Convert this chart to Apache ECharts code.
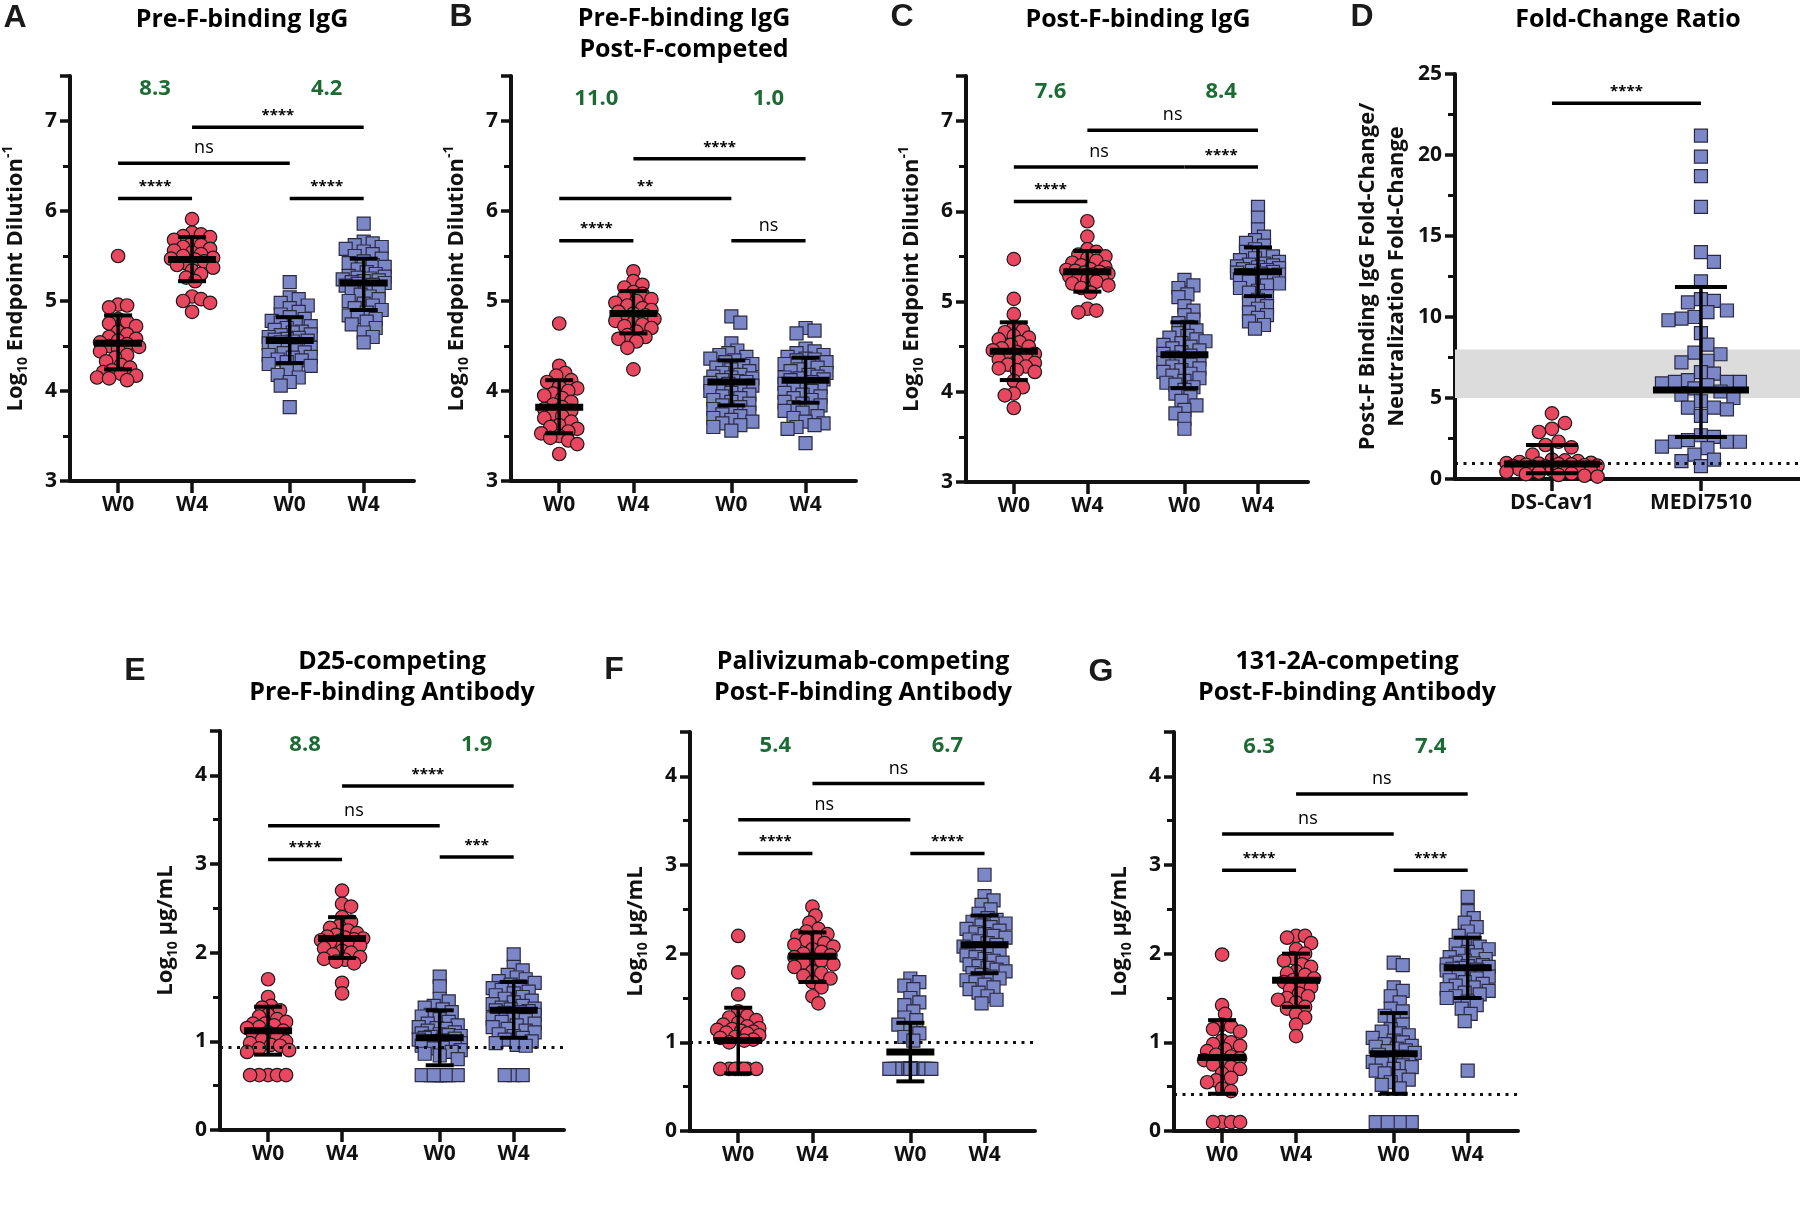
<!DOCTYPE html>
<html><head><meta charset="utf-8">
<script src="https://cdn.jsdelivr.net/npm/echarts@6/dist/echarts.min.js"></script>
<style>html,body{margin:0;padding:0;background:#fff}#c{width:1800px;height:1231px}</style>
</head><body><div id="c"></div>
<script>
// ================= DATA =================
const groupLabels = ['W0', 'W4', 'W0', 'W4'];
const groupLabelsD = ['DS-Cav1', 'MEDI7510'];
const titleTexts = ['Pre-F-binding IgG', 'Pre-F-binding IgG', 'Post-F-competed', 'Post-F-binding IgG', 'Fold-Change Ratio',
  'D25-competing', 'Pre-F-binding Antibody', 'Palivizumab-competing', 'Post-F-binding Antibody', '131-2A-competing', 'Post-F-binding Antibody'];
const panelLetters = ['A', 'B', 'C', 'D', 'E', 'F', 'G'];

// Panel A: Pre-F-binding IgG (log10 endpoint dilution)
const A_ds_w0 = [5.50, 4.96, 4.95, 4.93, 4.80, 4.77, 4.75, 4.72, 4.66, 4.63, 4.60, 4.58, 4.56, 4.54, 4.52, 4.50, 4.49, 4.47, 4.44, 4.40, 4.37, 4.33, 4.29, 4.26, 4.23, 4.21, 4.19, 4.17, 4.15, 4.14, 4.12];
const A_ds_w4 = [5.91, 5.76, 5.74, 5.72, 5.71, 5.68, 5.65, 5.62, 5.60, 5.58, 5.56, 5.54, 5.52, 5.50, 5.48, 5.47, 5.46, 5.44, 5.42, 5.40, 5.37, 5.34, 5.30, 5.26, 5.22, 5.05, 5.02, 5.00, 4.98, 4.88];
const A_me_w0 = [5.21, 5.04, 5.02, 4.98, 4.95, 4.92, 4.88, 4.85, 4.82, 4.80, 4.78, 4.76, 4.74, 4.72, 4.70, 4.68, 4.66, 4.65, 4.63, 4.62, 4.60, 4.59, 4.58, 4.57, 4.56, 4.55, 4.54, 4.53, 4.52, 4.50, 4.48, 4.46, 4.45, 4.43, 4.42, 4.40, 4.38, 4.37, 4.35, 4.34, 4.32, 4.30, 4.28, 4.25, 4.22, 4.18, 4.15, 4.10, 4.06, 3.82];
const A_me_w4 = [5.86, 5.66, 5.64, 5.62, 5.60, 5.58, 5.55, 5.52, 5.50, 5.47, 5.44, 5.42, 5.40, 5.38, 5.35, 5.32, 5.30, 5.28, 5.27, 5.26, 5.25, 5.24, 5.23, 5.22, 5.21, 5.20, 5.19, 5.18, 5.17, 5.15, 5.12, 5.10, 5.07, 5.05, 5.02, 5.00, 4.97, 4.95, 4.92, 4.90, 4.87, 4.84, 4.82, 4.80, 4.77, 4.74, 4.70, 4.65, 4.60, 4.54];
const A_mean = [4.53, 5.46, 4.56, 5.20];
const A_hi = [4.84, 5.71, 4.82, 5.47];
const A_lo = [4.24, 5.22, 4.31, 4.90];
const A_brackets = [[0, 1, 6.14, '****'], [0, 2, 6.53, 'ns'], [1, 3, 6.93, '****'], [2, 3, 6.14, '****']];
const A_fold = ['8.3', '4.2'];
const A_foldY = 7.36;

// Panel B: Pre-F-binding IgG, Post-F-competed
const B_ds_w0 = [4.75, 4.28, 4.20, 4.17, 4.12, 4.10, 4.05, 4.03, 4.00, 3.97, 3.95, 3.92, 3.88, 3.85, 3.82, 3.80, 3.78, 3.75, 3.72, 3.70, 3.66, 3.62, 3.60, 3.58, 3.55, 3.53, 3.50, 3.48, 3.45, 3.41, 3.30];
const B_ds_w4 = [5.33, 5.22, 5.18, 5.15, 5.10, 5.08, 5.05, 5.02, 5.00, 4.98, 4.95, 4.92, 4.90, 4.88, 4.86, 4.84, 4.82, 4.80, 4.78, 4.76, 4.74, 4.72, 4.70, 4.66, 4.62, 4.60, 4.58, 4.55, 4.48, 4.24];
const B_me_w0 = [4.83, 4.76, 4.53, 4.45, 4.42, 4.40, 4.38, 4.36, 4.34, 4.32, 4.30, 4.28, 4.26, 4.24, 4.22, 4.20, 4.18, 4.16, 4.15, 4.14, 4.12, 4.11, 4.10, 4.09, 4.08, 4.06, 4.04, 4.02, 4.00, 3.98, 3.96, 3.94, 3.92, 3.90, 3.88, 3.86, 3.84, 3.82, 3.80, 3.78, 3.76, 3.74, 3.72, 3.70, 3.68, 3.66, 3.64, 3.62, 3.60, 3.56];
const B_me_w4 = [4.70, 4.67, 4.64, 4.47, 4.44, 4.42, 4.40, 4.38, 4.36, 4.35, 4.34, 4.32, 4.30, 4.28, 4.26, 4.24, 4.22, 4.20, 4.18, 4.16, 4.15, 4.14, 4.13, 4.12, 4.10, 4.08, 4.06, 4.04, 4.02, 4.00, 3.98, 3.96, 3.94, 3.92, 3.90, 3.88, 3.86, 3.84, 3.82, 3.80, 3.78, 3.76, 3.72, 3.70, 3.66, 3.64, 3.62, 3.60, 3.58, 3.42];
const B_mean = [3.82, 4.86, 4.10, 4.12];
const B_hi = [4.12, 5.11, 4.34, 4.37];
const B_lo = [3.53, 4.64, 3.84, 3.87];
const B_brackets = [[0, 1, 5.67, '****'], [0, 2, 6.14, '**'], [1, 3, 6.58, '****'], [2, 3, 5.67, 'ns']];
const B_fold = ['11.0', '1.0'];
const B_foldY = 7.25;

// Panel C: Post-F-binding IgG
const C_ds_w0 = [5.47, 5.03, 4.86, 4.72, 4.68, 4.66, 4.62, 4.60, 4.58, 4.55, 4.52, 4.50, 4.48, 4.46, 4.44, 4.42, 4.40, 4.38, 4.36, 4.34, 4.32, 4.30, 4.28, 4.26, 4.24, 4.22, 4.12, 4.05, 3.98, 3.96, 3.82];
const C_ds_w4 = [5.89, 5.72, 5.58, 5.55, 5.52, 5.50, 5.48, 5.45, 5.43, 5.40, 5.38, 5.36, 5.35, 5.34, 5.33, 5.32, 5.31, 5.30, 5.28, 5.26, 5.25, 5.24, 5.22, 5.20, 5.18, 5.15, 5.10, 4.92, 4.90, 4.88];
const C_me_w0 = [5.24, 5.18, 5.15, 5.08, 5.05, 4.95, 4.90, 4.85, 4.80, 4.76, 4.72, 4.68, 4.65, 4.62, 4.60, 4.58, 4.56, 4.54, 4.52, 4.50, 4.48, 4.46, 4.44, 4.42, 4.40, 4.38, 4.36, 4.34, 4.32, 4.30, 4.28, 4.26, 4.24, 4.22, 4.20, 4.18, 4.15, 4.12, 4.10, 4.08, 4.05, 4.02, 3.98, 3.94, 3.90, 3.85, 3.80, 3.76, 3.70, 3.59];
const C_me_w4 = [6.05, 5.93, 5.80, 5.72, 5.68, 5.65, 5.62, 5.58, 5.55, 5.52, 5.50, 5.48, 5.46, 5.44, 5.42, 5.41, 5.40, 5.39, 5.38, 5.37, 5.36, 5.35, 5.34, 5.33, 5.32, 5.31, 5.30, 5.29, 5.28, 5.27, 5.26, 5.25, 5.24, 5.22, 5.20, 5.18, 5.15, 5.12, 5.10, 5.06, 5.02, 4.98, 4.95, 4.92, 4.88, 4.85, 4.82, 4.78, 4.74, 4.70];
const C_mean = [4.45, 5.33, 4.41, 5.33];
const C_hi = [4.77, 5.56, 4.77, 5.60];
const C_lo = [4.13, 5.11, 4.04, 5.06];
const C_brackets = [[0, 1, 6.11, '****'], [0, 2, 6.49, 'ns'], [1, 3, 6.90, 'ns'], [2, 3, 6.49, '****']];
const C_fold = ['7.6', '8.4'];
const C_foldY = 7.33;

// Panel D: Fold-change ratio
const D_ds = [4.05, 3.45, 3.10, 2.90, 2.30, 2.10, 1.95, 1.50, 1.20, 1.15, 1.10, 1.05, 1.00, 0.98, 0.95, 0.92, 0.90, 0.88, 0.85, 0.82, 0.80, 0.78, 0.75, 0.70, 0.65, 0.60, 0.55, 0.50, 0.45, 0.40, 0.35, 0.30, 0.25, 0.20, 0.15];
const D_me = [21.2, 19.9, 18.7, 16.8, 14.0, 13.4, 12.2, 11.1, 11.0, 10.9, 10.4, 10.3, 10.0, 9.9, 9.8, 9.0, 8.3, 7.8, 7.7, 7.3, 7.2, 6.6, 6.5, 6.1, 6.0, 6.0, 6.0, 5.9, 5.8, 5.6, 5.4, 5.2, 5.0, 4.8, 4.4, 4.4, 4.3, 3.9, 2.7, 2.6, 2.4, 2.3, 2.3, 2.3, 2.0, 1.9, 1.5, 1.2, 1.1, 0.8];
const D_mean = [0.93, 5.49];
const D_hi = [2.10, 11.85];
const D_lo = [0.35, 2.60];
const D_brackets = [[0, 1, 23.19, '****']];
const D_bandLow = 5, D_bandHigh = 8, D_ref = 1;

// Panel E: D25-competing Pre-F-binding antibody (log10 ug/mL)
const E_ds_w0 = [1.70, 1.50, 1.40, 1.38, 1.35, 1.30, 1.28, 1.25, 1.22, 1.20, 1.20, 1.18, 1.16, 1.15, 1.12, 1.10, 1.08, 1.05, 1.02, 1.00, 0.98, 0.96, 0.95, 0.92, 0.90, 0.88, 0.62, 0.62, 0.62, 0.62, 0.62];
const E_ds_w4 = [2.70, 2.55, 2.52, 2.40, 2.35, 2.30, 2.28, 2.25, 2.22, 2.20, 2.18, 2.17, 2.16, 2.15, 2.14, 2.13, 2.12, 2.10, 2.08, 2.05, 2.02, 2.00, 1.98, 1.95, 1.93, 1.92, 1.90, 1.88, 1.66, 1.54];
const E_me_w0 = [1.73, 1.62, 1.48, 1.45, 1.40, 1.38, 1.36, 1.33, 1.30, 1.28, 1.25, 1.22, 1.20, 1.18, 1.16, 1.15, 1.14, 1.12, 1.10, 1.09, 1.08, 1.07, 1.06, 1.05, 1.04, 1.03, 1.02, 1.01, 1.00, 0.99, 0.98, 0.97, 0.96, 0.95, 0.93, 0.92, 0.90, 0.88, 0.86, 0.84, 0.80, 0.62, 0.62, 0.62, 0.62, 0.62, 0.62, 0.62, 0.62, 0.62];
const E_me_w4 = [1.98, 1.84, 1.80, 1.75, 1.72, 1.70, 1.68, 1.66, 1.64, 1.62, 1.60, 1.58, 1.56, 1.54, 1.52, 1.50, 1.48, 1.46, 1.44, 1.42, 1.40, 1.38, 1.37, 1.36, 1.35, 1.34, 1.33, 1.32, 1.30, 1.28, 1.26, 1.24, 1.22, 1.20, 1.18, 1.16, 1.14, 1.12, 1.10, 1.08, 1.06, 1.04, 1.02, 1.00, 0.98, 0.96, 0.95, 0.62, 0.62, 0.62];
const E_mean = [1.12, 2.16, 1.04, 1.35];
const E_hi = [1.39, 2.40, 1.35, 1.67];
const E_lo = [0.85, 1.94, 0.73, 1.04];
const E_brackets = [[0, 1, 3.05, '****'], [0, 2, 3.43, 'ns'], [1, 3, 3.88, '****'], [2, 3, 3.08, '***']];
const E_fold = ['8.8', '1.9'];
const E_foldY = 4.34;
const E_ref = 0.93;

// Panel F: Palivizumab-competing Post-F-binding antibody
const F_ds_w0 = [2.20, 1.79, 1.54, 1.35, 1.30, 1.28, 1.25, 1.22, 1.20, 1.18, 1.16, 1.15, 1.14, 1.13, 1.12, 1.11, 1.10, 1.08, 1.06, 1.05, 1.03, 1.02, 1.00, 0.70, 0.70, 0.70, 0.70, 0.70, 0.70, 0.70, 0.70];
const F_ds_w4 = [2.53, 2.43, 2.35, 2.28, 2.25, 2.22, 2.20, 2.18, 2.15, 2.12, 2.10, 2.08, 2.05, 2.02, 2.00, 1.98, 1.96, 1.94, 1.92, 1.90, 1.88, 1.85, 1.80, 1.78, 1.75, 1.72, 1.68, 1.62, 1.52, 1.44];
const F_me_w0 = [1.72, 1.68, 1.64, 1.60, 1.50, 1.45, 1.42, 1.35, 1.28, 1.25, 1.20, 1.15, 1.10, 1.06, 1.02, 0.70, 0.70, 0.70, 0.70, 0.70, 0.70, 0.70, 0.70, 0.70, 0.70, 0.70, 0.70, 0.70, 0.70, 0.70, 0.70, 0.70, 0.70, 0.70, 0.70, 0.70, 0.70, 0.70, 0.70, 0.70, 0.70, 0.70, 0.70, 0.70, 0.70, 0.70, 0.70, 0.70, 0.70, 0.70];
const F_me_w4 = [2.89, 2.65, 2.60, 2.55, 2.50, 2.45, 2.40, 2.38, 2.36, 2.34, 2.32, 2.30, 2.28, 2.26, 2.24, 2.22, 2.20, 2.18, 2.16, 2.14, 2.12, 2.10, 2.08, 2.06, 2.04, 2.02, 2.00, 1.98, 1.96, 1.94, 1.92, 1.90, 1.88, 1.86, 1.84, 1.82, 1.80, 1.78, 1.76, 1.74, 1.72, 1.70, 1.68, 1.65, 1.62, 1.60, 1.56, 1.52, 1.48, 1.44];
const F_mean = [1.02, 1.97, 0.89, 2.10];
const F_hi = [1.39, 2.24, 1.22, 2.43];
const F_lo = [0.65, 1.68, 0.56, 1.78];
const F_brackets = [[0, 1, 3.13, '****'], [0, 2, 3.51, 'ns'], [1, 3, 3.92, 'ns'], [2, 3, 3.13, '****']];
const F_fold = ['5.4', '6.7'];
const F_foldY = 4.34;
const F_ref = 1.0;

// Panel G: 131-2A-competing Post-F-binding antibody
const G_ds_w0 = [1.99, 1.42, 1.32, 1.20, 1.18, 1.15, 1.12, 1.02, 1.00, 0.98, 0.96, 0.92, 0.90, 0.86, 0.84, 0.82, 0.80, 0.78, 0.75, 0.72, 0.70, 0.65, 0.60, 0.57, 0.55, 0.48, 0.45, 0.10, 0.10, 0.10, 0.10];
const G_ds_w4 = [2.20, 2.20, 2.18, 2.12, 2.05, 2.00, 1.95, 1.92, 1.88, 1.85, 1.80, 1.78, 1.76, 1.72, 1.70, 1.68, 1.65, 1.62, 1.60, 1.55, 1.52, 1.50, 1.48, 1.45, 1.40, 1.38, 1.32, 1.28, 1.20, 1.07];
const G_me_w0 = [1.90, 1.87, 1.62, 1.58, 1.52, 1.45, 1.38, 1.35, 1.30, 1.25, 1.20, 1.15, 1.12, 1.10, 1.08, 1.05, 1.02, 1.00, 0.98, 0.96, 0.95, 0.93, 0.91, 0.90, 0.88, 0.86, 0.84, 0.82, 0.80, 0.78, 0.76, 0.74, 0.72, 0.70, 0.68, 0.65, 0.62, 0.58, 0.55, 0.52, 0.48, 0.10, 0.10, 0.10, 0.10, 0.10, 0.10, 0.10, 0.10, 0.10];
const G_me_w4 = [2.64, 2.48, 2.40, 2.35, 2.30, 2.25, 2.20, 2.16, 2.12, 2.10, 2.08, 2.05, 2.02, 2.00, 1.98, 1.96, 1.94, 1.92, 1.90, 1.89, 1.88, 1.87, 1.86, 1.85, 1.84, 1.83, 1.82, 1.81, 1.80, 1.78, 1.76, 1.74, 1.72, 1.70, 1.68, 1.66, 1.64, 1.62, 1.60, 1.58, 1.56, 1.54, 1.52, 1.50, 1.46, 1.42, 1.38, 1.32, 1.24, 0.68];
const G_mean = [0.83, 1.70, 0.87, 1.84];
const G_hi = [1.25, 2.00, 1.33, 2.18];
const G_lo = [0.42, 1.40, 0.42, 1.50];
const G_brackets = [[0, 1, 2.94, '****'], [0, 2, 3.35, 'ns'], [1, 3, 3.80, 'ns'], [2, 3, 2.94, '****']];
const G_fold = ['6.3', '7.4'];
const G_foldY = 4.33;
const G_ref = 0.42;

// ================= LAYOUT / STYLE =================
const FONT = '"Open Sans", Lato, sans-serif';
const INK = '#111';
const RED = '#E8475F';
const BLUE = '#7C87C8';
const GREEN = '#1C6B34';
const xs4 = [1, 2, 3.32, 4.32];
const xs2 = [1, 2];

const nameLog = '{a|Log}{sub|10}{a| Endpoint Dilution}{sup|-1}';
const nameUg = '{a|Log}{sub|10}{a| \u00b5g/mL}';
const nameD = '{a|Post-F Binding IgG Fold-Change/}\n{a|Neutralization Fold-Change}';

const panels = [
  {grid: {left: 70, top: 76, width: 344, height: 405}, xr: [0.35, 5.0], yr: [3, 7.5, 1], xs: xs4, labels: groupLabels,
   groups: [A_ds_w0, A_ds_w4, A_me_w0, A_me_w4], mean: A_mean, hi: A_hi, lo: A_lo, br: A_brackets, fold: A_fold, foldY: A_foldY, name: nameLog},
  {grid: {left: 511, top: 76, width: 345, height: 405}, xr: [0.35, 5.0], yr: [3, 7.5, 1], xs: xs4, labels: groupLabels,
   groups: [B_ds_w0, B_ds_w4, B_me_w0, B_me_w4], mean: B_mean, hi: B_hi, lo: B_lo, br: B_brackets, fold: B_fold, foldY: B_foldY, name: nameLog},
  {grid: {left: 966, top: 76, width: 342, height: 406}, xr: [0.35, 5.0], yr: [3, 7.5, 1], xs: xs4, labels: groupLabels,
   groups: [C_ds_w0, C_ds_w4, C_me_w0, C_me_w4], mean: C_mean, hi: C_hi, lo: C_lo, br: C_brackets, fold: C_fold, foldY: C_foldY, name: nameLog},
  {grid: {left: 1455, top: 74, width: 345, height: 405}, xr: [0.349, 2.665], yr: [0, 25, 5], xs: xs2, labels: groupLabelsD,
   groups: [D_ds, D_me], mean: D_mean, hi: D_hi, lo: D_lo, br: D_brackets, fold: null, name: nameD, isD: true, ref: D_ref},
  {grid: {left: 220, top: 731, width: 344, height: 399}, xr: [0.35, 5.0], yr: [0, 4.5, 1], xs: xs4, labels: groupLabels,
   groups: [E_ds_w0, E_ds_w4, E_me_w0, E_me_w4], mean: E_mean, hi: E_hi, lo: E_lo, br: E_brackets, fold: E_fold, foldY: E_foldY, name: nameUg, ref: E_ref},
  {grid: {left: 690, top: 732, width: 345, height: 399}, xr: [0.35, 5.0], yr: [0, 4.5, 1], xs: xs4, labels: groupLabels,
   groups: [F_ds_w0, F_ds_w4, F_me_w0, F_me_w4], mean: F_mean, hi: F_hi, lo: F_lo, br: F_brackets, fold: F_fold, foldY: F_foldY, name: nameUg, ref: F_ref},
  {grid: {left: 1174, top: 732, width: 344, height: 399}, xr: [0.35, 5.0], yr: [0, 4.5, 1], xs: xs4, labels: groupLabels,
   groups: [G_ds_w0, G_ds_w4, G_me_w0, G_me_w4], mean: G_mean, hi: G_hi, lo: G_lo, br: G_brackets, fold: G_fold, foldY: G_foldY, name: nameUg, ref: G_ref}
];

const titlePos = [[242, 20], [684, 19], [684, 50], [1138, 20], [1628, 20], [392, 662], [392, 693], [863, 662], [863, 693], [1347, 662], [1347, 693]];
const letterPos = [[15, 18], [461, 17], [902, 17], [1362, 17], [135, 671], [614, 670], [1101, 672]];

// deterministic beeswarm placement (pixel space) so overlapping dots spread sideways
function swarm(values, pxX, pxY, dist, maxHalf, step) {
  const order = values.map((v, i) => i).sort((a, b) => values[b] - values[a] || a - b);
  const placed = [];
  const offs = new Array(values.length);
  const cands = [0];
  for (let k = 1; k * step <= maxHalf; k++) cands.push(k * step, -k * step);
  for (const i of order) {
    const yp = values[i] * pxY;
    let best = 0, bestScore = -1;
    for (const c of cands) {
      let minD = Infinity;
      for (const p of placed) {
        const d = Math.hypot(p[0] - c, p[1] - yp);
        if (d < minD) minD = d;
      }
      if (minD >= dist) { best = c; break; }
      if (minD > bestScore + 0.01) { bestScore = minD; best = c; }
    }
    placed.push([best, yp]);
    offs[i] = best / pxX;
  }
  return offs;
}

const richName = {
  a: {fontSize: 22, fontWeight: 'bold', fontFamily: FONT, color: INK, lineHeight: 29},
  sub: {fontSize: 14, fontWeight: 'bold', fontFamily: FONT, color: INK, lineHeight: 14, verticalAlign: 'bottom'},
  sup: {fontSize: 14, fontWeight: 'bold', fontFamily: FONT, color: INK, lineHeight: 14, verticalAlign: 'top'}
};

const grids = [], xAxes = [], yAxes = [], series = [];

panels.forEach((p, pi) => {
  grids.push(Object.assign({containLabel: false}, p.grid));
  const pxX = p.grid.width / (p.xr[1] - p.xr[0]);
  const pxY = p.grid.height / (p.yr[1] - p.yr[0]);
  const xs = p.xs, labels = p.labels;
  xAxes.push({
    type: 'value', gridIndex: pi, min: p.xr[0], max: p.xr[1],
    axisLine: {show: true, onZero: false, lineStyle: {color: INK, width: 4}},
    axisTick: {show: true, customValues: xs, length: 12, lineStyle: {color: INK, width: 3.5}},
    axisLabel: {show: true, customValues: xs, margin: 14, fontSize: 21, fontWeight: 'bold', fontFamily: FONT, color: INK,
      formatter: v => { const k = xs.findIndex(x => Math.abs(x - v) < 1e-6); return k >= 0 ? labels[k] : ''; }},
    splitLine: {show: false}
  });
  yAxes.push({
    type: 'value', gridIndex: pi, min: p.yr[0], max: p.yr[1], interval: p.yr[2],
    axisLine: {show: true, onZero: false, lineStyle: {color: INK, width: 4}},
    axisTick: {show: true, length: 10, lineStyle: {color: INK, width: 3.5}},
    minorTick: {show: true, splitNumber: 2, length: 7, lineStyle: {color: INK, width: 3}},
    axisLabel: {margin: 13, fontSize: 21, fontWeight: 'bold', fontFamily: FONT, color: INK, showMaxLabel: !!p.isD},
    splitLine: {show: false}, minorSplitLine: {show: false},
    name: p.name, nameLocation: 'middle', nameRotate: 90, nameGap: p.isD ? 44 : 40,
    nameTextStyle: {rich: richName, align: 'center'}
  });

  const dist = p.isD ? 13 : 9;
  const maxHalf = p.isD ? 46 : 22;
  const step = p.isD ? 6.5 : 3;
  const redData = [], blueData = [];
  p.groups.forEach((vals, gi) => {
    const offs = swarm(vals, pxX, pxY, dist, maxHalf, step);
    const isRed = p.isD ? gi === 0 : gi < 2;
    vals.forEach((v, k) => (isRed ? redData : blueData).push([xs[gi] + offs[k], v]));
  });

  // background band / reference line
  const bgSeries = {type: 'scatter', xAxisIndex: pi, yAxisIndex: pi, data: [], z: 1, silent: true};
  if (p.isD) {
    bgSeries.markArea = {silent: true, itemStyle: {color: '#DCDCDC'}, data: [[{yAxis: D_bandLow}, {yAxis: D_bandHigh}]]};
  }
  if (p.ref != null) {
    bgSeries.markLine = {silent: true, symbol: 'none', label: {show: false}, animation: false,
      lineStyle: {type: [3, 5.5], width: 3, color: INK}, data: [{yAxis: p.ref}]};
  }
  series.push(bgSeries);

  series.push({type: 'scatter', xAxisIndex: pi, yAxisIndex: pi, z: 3, data: redData, symbol: 'circle', symbolSize: 13.5,
    itemStyle: {color: RED, borderColor: '#1a1a1a', borderWidth: 1.2, opacity: 1}, silent: true});
  series.push({type: 'scatter', xAxisIndex: pi, yAxisIndex: pi, z: 3, data: blueData, symbol: 'rect', symbolSize: 13,
    itemStyle: {color: BLUE, borderColor: '#2a2a40', borderWidth: 1.2, opacity: 1}, silent: true});

  // mean +/- SD
  const meanHalf = p.isD ? 48 : 24;
  const capHalf = p.isD ? 26 : 14;
  series.push({
    type: 'custom', xAxisIndex: pi, yAxisIndex: pi, z: 10, silent: true,
    encode: {x: 0, y: [1, 2, 3]},
    data: xs.map((x, i) => [x, p.mean[i], p.lo[i], p.hi[i]]),
    renderItem: (params, api) => {
      const c = api.coord([api.value(0), api.value(1)]);
      const l = api.coord([api.value(0), api.value(2)]);
      const h = api.coord([api.value(0), api.value(3)]);
      return {type: 'group', children: [
        {type: 'line', shape: {x1: c[0], y1: h[1], x2: c[0], y2: l[1]}, style: {stroke: '#000', lineWidth: 3.5}},
        {type: 'line', shape: {x1: c[0] - capHalf, y1: h[1], x2: c[0] + capHalf, y2: h[1]}, style: {stroke: '#000', lineWidth: 4}},
        {type: 'line', shape: {x1: c[0] - capHalf, y1: l[1], x2: c[0] + capHalf, y2: l[1]}, style: {stroke: '#000', lineWidth: 4}},
        {type: 'line', shape: {x1: c[0] - meanHalf, y1: c[1], x2: c[0] + meanHalf, y2: c[1]}, style: {stroke: '#000', lineWidth: 7}}
      ]};
    }
  });

  // significance brackets
  const br = p.br;
  series.push({
    type: 'custom', xAxisIndex: pi, yAxisIndex: pi, z: 10, silent: true, clip: false,
    encode: {x: [0, 1], y: 2},
    data: br.map(b => [xs[b[0]], xs[b[1]], b[2]]),
    renderItem: (params, api) => {
      const a = api.coord([api.value(0), api.value(2)]);
      const b = api.coord([api.value(1), api.value(2)]);
      const txt = br[params.dataIndex][3];
      const isNs = txt === 'ns';
      return {type: 'group', children: [
        {type: 'line', shape: {x1: a[0], y1: a[1], x2: b[0], y2: b[1]}, style: {stroke: '#000', lineWidth: 3.5}},
        {type: 'text', x: (a[0] + b[0]) / 2, y: a[1] - (isNs ? 6 : 4), style: {text: txt, align: 'center', verticalAlign: 'bottom',
          fontSize: isNs ? 18 : 15, fontWeight: isNs ? 'normal' : 'bold', fontFamily: FONT, fill: '#000'}}
      ]};
    }
  });

  // fold-change numbers
  if (p.fold) {
    series.push({
      type: 'custom', xAxisIndex: pi, yAxisIndex: pi, z: 10, silent: true, clip: false,
      encode: {x: 0, y: 1},
      data: p.fold.map((f, i) => [(xs[2 * i] + xs[2 * i + 1]) / 2, p.foldY]),
      renderItem: (params, api) => {
        const c = api.coord([api.value(0), api.value(1)]);
        return {type: 'text', x: c[0], y: c[1], style: {text: p.fold[params.dataIndex], align: 'center', verticalAlign: 'middle',
          fontSize: 22, fontWeight: 'bold', fontFamily: FONT, fill: GREEN}};
      }
    });
  }
});

const graphics = [];
titleTexts.forEach((t, i) => graphics.push({type: 'text', x: titlePos[i][0], y: titlePos[i][1], silent: true,
  style: {text: t, align: 'center', verticalAlign: 'middle', fontSize: 25, fontWeight: 'bold', fontFamily: FONT, fill: '#000'}}));
panelLetters.forEach((t, i) => graphics.push({type: 'text', x: letterPos[i][0], y: letterPos[i][1], silent: true,
  style: {text: t, align: 'center', verticalAlign: 'middle', fontSize: 32, fontWeight: 'bold', fontFamily: '"Liberation Sans", Arial, sans-serif', fill: '#1a1a1a'}}));

const chart = echarts.init(document.getElementById('c'), null, {renderer: 'canvas', width: 1800, height: 1231});
chart.setOption({
  animation: false,
  backgroundColor: '#fff',
  grid: grids, xAxis: xAxes, yAxis: yAxes, series: series, graphic: graphics
});
</script></body></html>
